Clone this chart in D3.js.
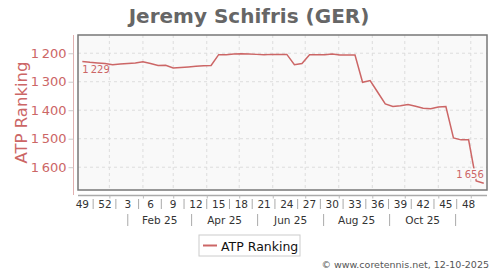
<!DOCTYPE html>
<html>
<head>
<meta charset="utf-8">
<script src="https://cdn.jsdelivr.net/npm/d3@7"></script>
<style>
  body { margin: 0; background: #fff; }
  svg { font-family: "DejaVu Sans", sans-serif; }
</style>
</head>
<body>
<svg id="drawing_region"></svg>
<script>
// weekly ATP ranking, first point = week 49 (2024)
const rankings = [
  1229, 1232, 1234, 1236, 1240, 1238, 1236, 1234, 1230, 1236,
  1243, 1242, 1252, 1250, 1248, 1246, 1244, 1243, 1205, 1205,
  1203, 1202, 1203, 1204, 1205, 1204, 1204, 1204, 1240, 1236,
  1205, 1205, 1205, 1203, 1206, 1206, 1206, 1302, 1296, 1337,
  1378, 1387, 1384, 1380, 1386, 1393, 1395, 1389, 1387, 1497,
  1504, 1504, 1648, 1656
];
const weekLabels = ['49', '52', '3', '6', '9', '12', '15', '18', '21', '24',
                    '27', '30', '33', '36', '39', '42', '45', '48'];
const yTicks = [1200, 1300, 1400, 1500, 1600];
const seriesName = 'ATP Ranking';
const title = 'Jeremy Schifris (GER)';
const credit = '\u00a9  www.coretennis.net, 12-10-2025';

const firstWeek = new Date(2024, 11, 21);
const data = rankings.map((v, i) => ({ date: d3.timeDay.offset(firstWeek, 7 * i), value: v }));

const W = 500, H = 270;
const plot = { left: 78, right: 487, top: 35, bottom: 190 };
const red = '#cc6666';

const fmt = d3.formatLocale({ decimal: '.', thousands: '\u2009', grouping: [3], currency: ['', ''] }).format(',d');

const svg = d3.select('#drawing_region').attr('width', W).attr('height', H);

const x = d3.scaleTime()
    .domain([new Date(2024, 11, 17), new Date(2025, 11, 30)])
    .range([plot.left, plot.right]);
const y = d3.scaleLinear()
    .domain([1136, 1680])
    .range([plot.top, plot.bottom]);

// title
svg.append('text')
    .attr('x', 249).attr('y', 23)
    .attr('text-anchor', 'middle')
    .attr('font-size', 20).attr('font-weight', 'bold')
    .attr('fill', '#666')
    .text(title);

// plot background
svg.append('rect')
    .attr('x', plot.left).attr('y', plot.top)
    .attr('width', plot.right - plot.left).attr('height', plot.bottom - plot.top)
    .attr('fill', '#f9f9f9');

// grid
const midMonths = d3.timeMonth.range(new Date(2024, 11, 1), new Date(2025, 11, 2))
    .map(d => d3.timeDay.offset(d, 14))
    .filter(d => x(d) > plot.left && x(d) < plot.right);

svg.append('g').selectAll('line').data(midMonths).join('line')
    .attr('x1', d => x(d)).attr('x2', d => x(d))
    .attr('y1', plot.top).attr('y2', plot.bottom)
    .attr('stroke', '#ddd').attr('stroke-dasharray', '3,3');

svg.append('g').selectAll('line').data(yTicks).join('line')
    .attr('x1', plot.left).attr('x2', plot.right)
    .attr('y1', d => y(d)).attr('y2', d => y(d))
    .attr('stroke', '#ddd').attr('stroke-dasharray', '3,3');

// y axis
const yAxis = svg.append('g')
    .attr('transform', `translate(73.5,0)`)
    .call(d3.axisLeft(y).tickValues(yTicks).tickSize(5).tickPadding(2).tickFormat(fmt));
yAxis.select('.domain').attr('stroke', '#e0b0b0').attr('d', `M0,${plot.top}V${plot.bottom + 5}`);
yAxis.selectAll('.tick line').attr('stroke', '#ccc');
yAxis.selectAll('.tick text').attr('fill', red).attr('font-size', 13)
    .attr('font-family', '"DejaVu Sans", sans-serif');

svg.append('text')
    .attr('transform', `translate(27,${(plot.top + plot.bottom) / 2}) rotate(-90)`)
    .attr('text-anchor', 'middle')
    .attr('font-size', 16.5)
    .attr('fill', red)
    .text(seriesName);

// plot border
svg.append('rect')
    .attr('x', plot.left).attr('y', plot.top)
    .attr('width', plot.right - plot.left).attr('height', plot.bottom - plot.top)
    .attr('fill', 'none').attr('stroke', '#777').attr('stroke-width', 1.5);

// x axis
const xAxis = svg.append('g')
    .attr('transform', `translate(0,195.5)`)
    .call(d3.axisBottom(x).tickValues(midMonths).tickSize(3).tickFormat(''));
xAxis.select('.domain').attr('stroke', '#aaa').attr('stroke-width', 1.5)
    .attr('d', `M${plot.left},0H${plot.right}`);
xAxis.selectAll('.tick line').attr('stroke', '#bbb');

// week labels with separators
const labelWeeks = weekLabels.map((w, i) => ({ label: w, date: data[i * 3].date }));
svg.append('g').selectAll('text').data(labelWeeks).join('text')
    .attr('x', d => x(d.date)).attr('y', 208)
    .attr('text-anchor', 'middle')
    .attr('font-size', 10.5).attr('fill', '#333')
    .text(d => d.label);
svg.append('g').selectAll('line').data(labelWeeks.slice(1)).join('line')
    .attr('x1', d => x(d3.timeDay.offset(d.date, -10.5)))
    .attr('x2', d => x(d3.timeDay.offset(d.date, -10.5)))
    .attr('y1', 199).attr('y2', 209)
    .attr('stroke', '#aaa');

// month labels (two-month bands)
const monthEdges = d3.timeMonth.range(new Date(2025, 1, 1), new Date(2025, 11, 2), 2);
svg.append('g').selectAll('line').data(monthEdges).join('line')
    .attr('x1', d => x(d)).attr('x2', d => x(d))
    .attr('y1', 214).attr('y2', 226)
    .attr('stroke', '#aaa');
svg.append('g').selectAll('text').data(monthEdges.slice(0, -1)).join('text')
    .attr('x', (d, i) => (x(d) + x(monthEdges[i + 1])) / 2).attr('y', 224)
    .attr('text-anchor', 'middle')
    .attr('font-size', 10.5).attr('fill', '#333')
    .text(d => d3.timeFormat('%b %y')(d));

// line
svg.append('path')
    .datum(data)
    .attr('fill', 'none')
    .attr('stroke', red).attr('stroke-width', 1.5)
    .attr('d', d3.line().x(d => x(d.date)).y(d => y(d.value)));

// first / last value labels
const first = data[0], last = data[data.length - 1];
svg.append('text')
    .attr('x', x(first.date)).attr('y', y(first.value) + 12)
    .attr('font-size', 10).attr('fill', red)
    .text(fmt(first.value));
svg.append('text')
    .attr('x', x(last.date)).attr('y', y(last.value) - 5)
    .attr('text-anchor', 'end')
    .attr('font-size', 10).attr('fill', red)
    .attr('stroke', '#f9f9f9').attr('stroke-width', 3).attr('paint-order', 'stroke')
    .text(fmt(last.value));

// legend
const legend = svg.append('g').attr('transform', 'translate(199,235)');
legend.append('rect')
    .attr('width', 101).attr('height', 21)
    .attr('fill', '#fff').attr('stroke', '#ccc');
legend.append('line')
    .attr('x1', 4).attr('x2', 18).attr('y1', 10.5).attr('y2', 10.5)
    .attr('stroke', red).attr('stroke-width', 2);
legend.append('text')
    .attr('x', 22).attr('y', 15.5)
    .attr('font-size', 12.5).attr('fill', '#111')
    .text(seriesName);

// credit
svg.append('text')
    .attr('x', 489).attr('y', 268)
    .attr('text-anchor', 'end')
    .attr('font-size', 9.5).attr('fill', '#555')
    .text(credit);
</script>
</body>
</html>
